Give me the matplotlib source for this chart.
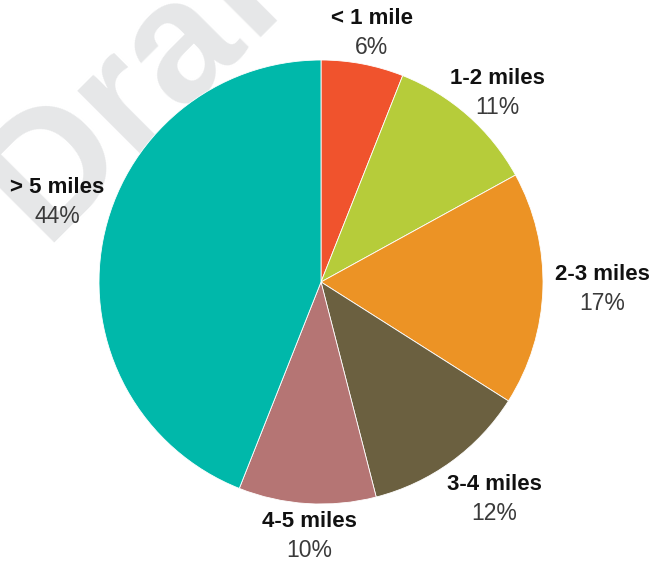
import matplotlib
matplotlib.use("Agg")
import matplotlib.pyplot as plt
import numpy as np

categories = ["< 1 mile", "1-2 miles", "2-3 miles", "3-4 miles", "4-5 miles", "> 5 miles"]
shares = [6, 11, 17, 12, 10, 44]
colors = ["#f0532d", "#b6cc3a", "#ec9325", "#6b6040", "#b57574", "#00b8aa"]

# label placement: radial distance (in pie radii) and angular nudge (degrees)
label_dist = [1.147, 1.165, 1.266, 1.25, 1.146, 1.243]
label_nudge = [-0.75, -1.5, 0.4, 2.6, 0.9, -6.1]

W, H = 652, 563
fig = plt.figure(figsize=(W / 100, H / 100), dpi=100)
ax = fig.add_axes([0, 0, 1, 1])

cx, cy, r = 321, H - 282, 222

# watermark
ax.text(43, 320, "Draft", rotation=45, fontsize=124, fontweight="bold",
        color="#e6e7e8", family="Liberation Sans", ha="left", va="baseline",
        zorder=0, rotation_mode="anchor")

wedges, _ = ax.pie(shares, colors=colors, startangle=90, counterclock=False,
                   center=(cx, cy), radius=r, frame=True,
                   wedgeprops=dict(edgecolor="white", linewidth=0.6))
for w in wedges:
    w.set_zorder(2)
ax.set_xlim(0, W)
ax.set_ylim(0, H)
ax.set_aspect("equal")
ax.axis("off")

for w, cat, pct, d, nudge in zip(wedges, categories, shares, label_dist, label_nudge):
    ang = np.deg2rad((w.theta1 + w.theta2) / 2 + nudge)
    x = cx + d * r * np.cos(ang)
    y = cy + d * r * np.sin(ang)
    ax.text(x, y + 14.5, cat, ha="center", va="center", fontsize=16,
            fontweight="bold", family="Liberation Sans", color="#111111", zorder=3)
    ax.text(x, y - 14.5, f"{pct}%", ha="center", va="center", fontsize=16.5,
            family="Liberation Sans", color="#3a3a3a", zorder=3)

fig.savefig("out.png", dpi=100)
